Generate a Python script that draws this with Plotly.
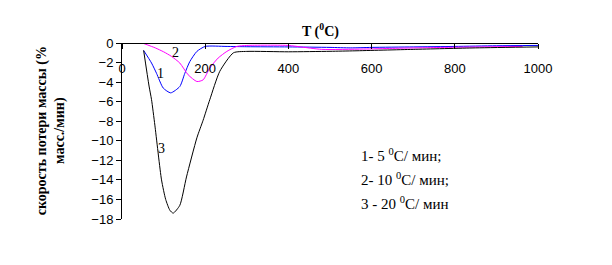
import plotly.graph_objects as go

# Curve 1: 5 °C/min (blue)
T1 = [52, 71, 83, 99, 117, 139, 151, 163, 180, 200, 250, 300, 400, 500, 550, 600, 700, 800, 900, 1000]
R1 = [-0.76, -2.05, -3.1, -4.6, -5.1, -4.45, -3.1, -1.9, -0.86, -0.35, -0.35, -0.38, -0.4, -0.45, -0.5, -0.45, -0.4, -0.35, -0.28, -0.25]

# Curve 2: 10 °C/min (magenta)
T2 = [52, 80, 100, 119, 139, 159, 180, 195, 211, 231, 252, 276, 300, 400, 430, 480, 580, 650, 730, 860, 963]
R2 = [-0.05, -0.5, -0.9, -1.37, -2.05, -3.25, -3.94, -3.77, -2.56, -1.54, -0.86, -0.35, -0.25, -0.25, -0.4, -0.65, -0.62, -0.55, -0.48, -0.4, -0.35]

# Curve 3: 20 °C/min (black)
T3 = [52, 65, 71, 79, 95, 105, 115, 123, 139, 155, 180, 195, 211, 235, 268, 300, 400, 500, 560, 700, 850, 1000]
R3 = [-0.76, -4.4, -5.8, -8.4, -14.0, -16.0, -17.1, -17.4, -16.6, -13.7, -9.7, -7.9, -5.8, -2.9, -1.0, -0.86, -0.9, -0.85, -0.8, -0.65, -0.5, -0.4]

x_ticks = [0, 200, 400, 600, 800, 1000]
y_ticks = [0, -2, -4, -6, -8, -10, -12, -14, -16, -18]

curve_labels = [("1", 92, -3.1), ("2", 128, -1.0), ("3", 95, -10.8)]
legend_lines = ["1- 5 <sup>0</sup>C/ мин;", "2- 10 <sup>0</sup>C/ мин;", "3 - 20 <sup>0</sup>C/ мин"]

fig = go.Figure()
fig.add_trace(go.Scatter(x=T1, y=R1, mode="lines", line=dict(color="#0000FF", width=1, shape="spline", smoothing=0.6), showlegend=False))
fig.add_trace(go.Scatter(x=T2, y=R2, mode="lines", line=dict(color="#FF00FF", width=1, shape="spline", smoothing=0.6), showlegend=False))
fig.add_trace(go.Scatter(x=T3, y=R3, mode="lines", line=dict(color="#000000", width=1, shape="spline", smoothing=0.6), showlegend=False))

serif = "Liberation Serif, Times New Roman, serif"
sans = "Liberation Sans, Arial, sans-serif"

annotations = []
for txt, xv, yv in curve_labels:
    annotations.append(dict(x=xv, y=yv, xref="x", yref="y", text=txt, showarrow=False,
                            font=dict(family=serif, size=14, color="black"), xanchor="center", yanchor="middle"))
for i, line in enumerate(legend_lines):
    annotations.append(dict(x=0.570, y=1, xref="paper", yref="paper", text=line, showarrow=False,
                            font=dict(family=serif, size=15, color="black"), xanchor="left", yanchor="middle",
                            yshift=-112 - i * 24))
annotations.append(dict(x=476, y=0, xref="x", yref="y", text="<b>T (<sup>0</sup>C)</b>", showarrow=False,
                        font=dict(family=serif, size=14, color="black"), xanchor="center", yanchor="bottom", yshift=1))
annotations.append(dict(x=-0.17, y=0.5, xref="paper", yref="paper", textangle=-90,
                        text="<b>скорость потери массы (%<br>масс./мин)</b>", showarrow=False,
                        font=dict(family=serif, size=14, color="black"), xanchor="center", yanchor="middle"))

fig.update_layout(
    width=612, height=265,
    margin=dict(l=122, r=74, t=43, b=46),
    paper_bgcolor="white", plot_bgcolor="white",
    annotations=annotations,
    xaxis=dict(range=[0, 1000], tickvals=x_ticks, ticks="outside", ticklen=5, tickcolor="black",
               showline=True, linecolor="black", linewidth=1, showgrid=False, zeroline=False,
               anchor="free", position=1, side="bottom", ticklabelstandoff=8,
               tickfont=dict(family=sans, size=13, color="black")),
    yaxis=dict(range=[-18, 0], tickvals=y_ticks, ticks="outside", ticklen=5, tickcolor="black",
               showline=True, linecolor="black", linewidth=1, showgrid=False, zeroline=False,
               tickfont=dict(family=sans, size=13, color="black")),
)

fig.write_html("out.html")
